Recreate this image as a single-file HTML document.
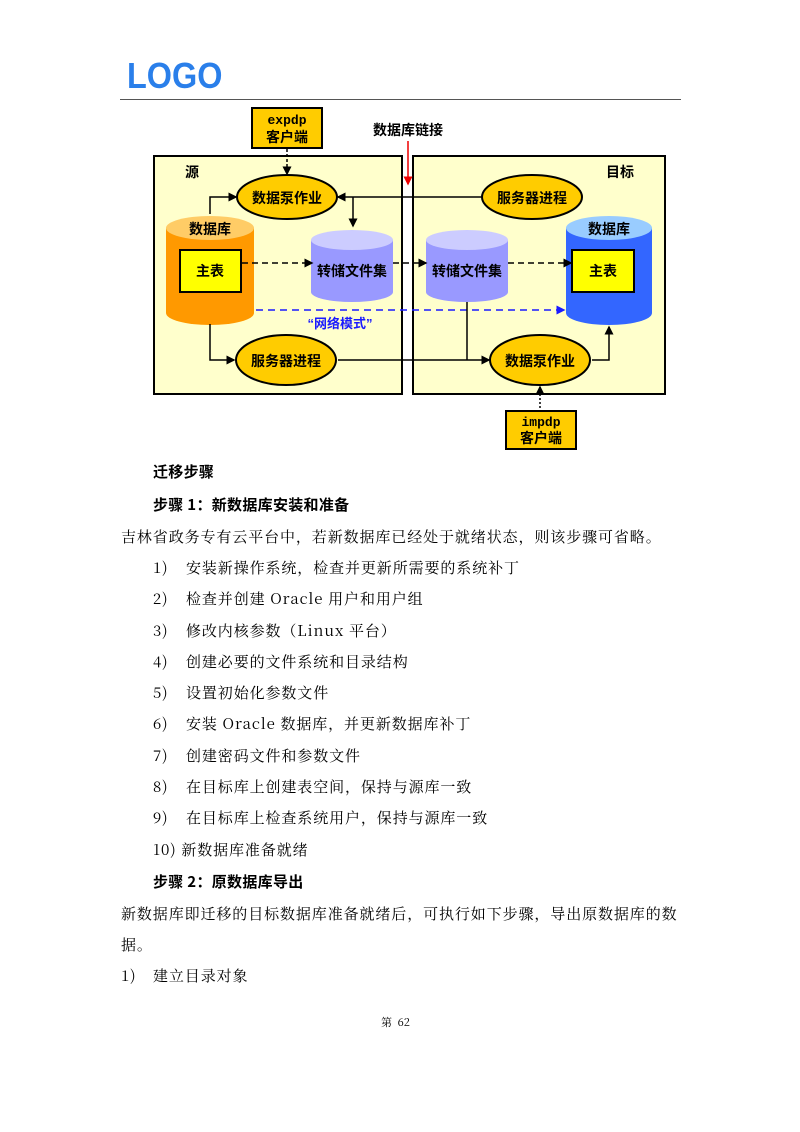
<!DOCTYPE html>
<html><head><meta charset="utf-8"><style>
body{margin:0;width:800px;height:1132px;background:#fff;position:relative;overflow:hidden}
.t{position:absolute;font-family:"Noto Serif CJK SC",serif;font-size:15px;line-height:20px;color:#000;white-space:nowrap;letter-spacing:0.9px}
.b{font-family:"Noto Sans CJK SC",sans-serif;font-weight:bold;letter-spacing:0.3px}
svg text{font-family:"Liberation Sans","Noto Sans CJK SC",sans-serif;font-weight:bold}
</style></head><body>
<div style="position:absolute;left:127px;top:58px;font:bold 36px 'Liberation Sans',sans-serif;color:#2a7fea;line-height:36px;transform:scaleX(0.9);transform-origin:left">LOGO</div>
<div style="position:absolute;left:120px;top:99px;width:561px;height:1px;background:#555"></div>
<svg style="position:absolute;left:0;top:0" width="800" height="460">
<defs>
<marker id="a" markerWidth="6" markerHeight="6" refX="5" refY="3" orient="auto"><path d="M0,0L6,3L0,6z" fill="#000"/></marker>
<marker id="ab" markerWidth="6" markerHeight="6" refX="5" refY="3" orient="auto"><path d="M0,0L6,3L0,6z" fill="#1a1aff"/></marker>
<marker id="ar" markerWidth="6" markerHeight="6" refX="5" refY="3" orient="auto"><path d="M0,0L6,3L0,6z" fill="#e00"/></marker>
</defs>
<rect x="154" y="156" width="248" height="238" fill="#ffffcc" stroke="#000" stroke-width="2"/>
<rect x="413" y="156" width="252" height="238" fill="#ffffcc" stroke="#000" stroke-width="2"/>
<rect x="252" y="108" width="70" height="40" fill="#ffcc00" stroke="#000" stroke-width="2"/>
<text x="287" y="124" font-size="13" text-anchor="middle" style="font-family:'Liberation Mono',monospace">expdp</text>
<text x="287" y="142" font-size="14" text-anchor="middle">客户端</text>
<text x="408" y="135" font-size="14" text-anchor="middle">数据库链接</text>
<line x1="408" y1="141" x2="408" y2="184" stroke="#e00" stroke-width="1.5" marker-end="url(#ar)"/>
<text x="192" y="177" font-size="14" text-anchor="middle">源</text>
<text x="620" y="177" font-size="14" text-anchor="middle">目标</text>
<line x1="287" y1="149" x2="287" y2="174" stroke="#000" stroke-dasharray="3,2" stroke-width="1.5" marker-end="url(#a)"/>
<path d="M166,228 V313 A44,12 0 0 0 254,313 V228 Z" fill="#ff9900"/>
<ellipse cx="210" cy="228" rx="44" ry="12" fill="#ffcc66"/>
<text x="210" y="234" font-size="14" text-anchor="middle">数据库</text>
<rect x="180" y="250" width="61" height="42" fill="#ffff00" stroke="#000" stroke-width="2"/>
<text x="210" y="276" font-size="14" text-anchor="middle">主表</text>
<path d="M566,228 V313 A43,12 0 0 0 652,313 V228 Z" fill="#3366ff"/>
<ellipse cx="609" cy="228" rx="43" ry="12" fill="#99ccff"/>
<text x="609" y="234" font-size="14" text-anchor="middle">数据库</text>
<rect x="572" y="250" width="62" height="42" fill="#ffff00" stroke="#000" stroke-width="2"/>
<text x="603" y="276" font-size="14" text-anchor="middle">主表</text>
<path d="M311,240 V292 A41,10 0 0 0 393,292 V240 Z" fill="#9999ff"/>
<ellipse cx="352" cy="240" rx="41" ry="10" fill="#ccccff"/>
<path d="M426,240 V292 A41,10 0 0 0 508,292 V240 Z" fill="#9999ff"/>
<ellipse cx="467" cy="240" rx="41" ry="10" fill="#ccccff"/>
<text x="352" y="276" font-size="14" text-anchor="middle">转储文件集</text>
<text x="467" y="276" font-size="14" text-anchor="middle">转储文件集</text>
<line x1="242" y1="263" x2="312" y2="263" stroke="#000" stroke-width="1.5" stroke-dasharray="6,4" marker-end="url(#a)"/>
<line x1="393" y1="263" x2="426" y2="263" stroke="#000" stroke-width="1.5" stroke-dasharray="6,4" marker-end="url(#a)"/>
<line x1="508" y1="263" x2="571" y2="263" stroke="#000" stroke-width="1.5" stroke-dasharray="6,4" marker-end="url(#a)"/>
<line x1="256" y1="310" x2="564" y2="310" stroke="#1a1aff" stroke-width="1.5" stroke-dasharray="7,5" marker-end="url(#ab)"/>
<text x="340" y="328" font-size="13" fill="#1a1aff" text-anchor="middle">“网络模式”</text>
<polyline points="210,214 210,197 236,197" fill="none" stroke="#000" stroke-width="1.5" marker-end="url(#a)"/>
<line x1="482" y1="197" x2="338" y2="197" stroke="#000" stroke-width="1.5" marker-end="url(#a)"/>
<line x1="353" y1="197" x2="353" y2="226" stroke="#000" stroke-width="1.5" marker-end="url(#a)"/>
<polyline points="210,324 210,360 234,360" fill="none" stroke="#000" stroke-width="1.5" marker-end="url(#a)"/>
<line x1="338" y1="360" x2="489" y2="360" stroke="#000" stroke-width="1.5" marker-end="url(#a)"/>
<line x1="467" y1="302" x2="467" y2="360" stroke="#000" stroke-width="1.5"/>
<polyline points="592,360 609,360 609,327" fill="none" stroke="#000" stroke-width="1.5" marker-end="url(#a)"/>
<line x1="540" y1="408" x2="540" y2="387" stroke="#000" stroke-width="1.5" stroke-dasharray="2,2" marker-end="url(#a)"/>
<ellipse cx="287" cy="197" rx="50" ry="22" fill="#ffcc00" stroke="#000" stroke-width="2"/>
<text x="287" y="203" font-size="14" text-anchor="middle">数据泵作业</text>
<ellipse cx="532" cy="197" rx="50" ry="22" fill="#ffcc00" stroke="#000" stroke-width="2"/>
<text x="532" y="203" font-size="14" text-anchor="middle">服务器进程</text>
<ellipse cx="286" cy="360" rx="50" ry="25" fill="#ffcc00" stroke="#000" stroke-width="2"/>
<text x="286" y="366" font-size="14" text-anchor="middle">服务器进程</text>
<ellipse cx="540" cy="360" rx="50" ry="25" fill="#ffcc00" stroke="#000" stroke-width="2"/>
<text x="540" y="366" font-size="14" text-anchor="middle">数据泵作业</text>
<rect x="506" y="411" width="70" height="38" fill="#ffcc00" stroke="#000" stroke-width="2"/>
<text x="541" y="426" font-size="13" text-anchor="middle" style="font-family:'Liberation Mono',monospace">impdp</text>
<text x="541" y="443" font-size="14" text-anchor="middle">客户端</text>
</svg>
<div class="t b" style="left:153px;top:462px">迁移步骤</div>
<div class="t b" style="left:153px;top:495px">步骤 1：新数据库安装和准备</div>
<div class="t" style="left:121px;top:527px">吉林省政务专有云平台中，若新数据库已经处于就绪状态，则该步骤可省略。</div>
<div class="t" style="left:153px;top:558px">1)</div><div class="t" style="left:186px;top:558px">安装新操作系统，检查并更新所需要的系统补丁</div>
<div class="t" style="left:153px;top:589px">2)</div><div class="t" style="left:186px;top:589px">检查并创建 Oracle 用户和用户组</div>
<div class="t" style="left:153px;top:621px">3)</div><div class="t" style="left:186px;top:621px">修改内核参数（Linux 平台）</div>
<div class="t" style="left:153px;top:652px">4)</div><div class="t" style="left:186px;top:652px">创建必要的文件系统和目录结构</div>
<div class="t" style="left:153px;top:683px">5)</div><div class="t" style="left:186px;top:683px">设置初始化参数文件</div>
<div class="t" style="left:153px;top:714px">6)</div><div class="t" style="left:186px;top:714px">安装 Oracle 数据库，并更新数据库补丁</div>
<div class="t" style="left:153px;top:746px">7)</div><div class="t" style="left:186px;top:746px">创建密码文件和参数文件</div>
<div class="t" style="left:153px;top:777px">8)</div><div class="t" style="left:186px;top:777px">在目标库上创建表空间，保持与源库一致</div>
<div class="t" style="left:153px;top:808px">9)</div><div class="t" style="left:186px;top:808px">在目标库上检查系统用户，保持与源库一致</div>
<div class="t" style="left:153px;top:840px">10) 新数据库准备就绪</div>
<div class="t b" style="left:153px;top:872px">步骤 2：原数据库导出</div>
<div class="t" style="left:121px;top:904px">新数据库即迁移的目标数据库准备就绪后，可执行如下步骤，导出原数据库的数</div>
<div class="t" style="left:121px;top:935px">据。</div>
<div class="t" style="left:121px;top:966px">1)</div><div class="t" style="left:153px;top:966px">建立目录对象</div>
<div class="t" style="left:381px;top:1012px;font-size:11px;letter-spacing:0">第&nbsp; 62</div>
</body></html>
